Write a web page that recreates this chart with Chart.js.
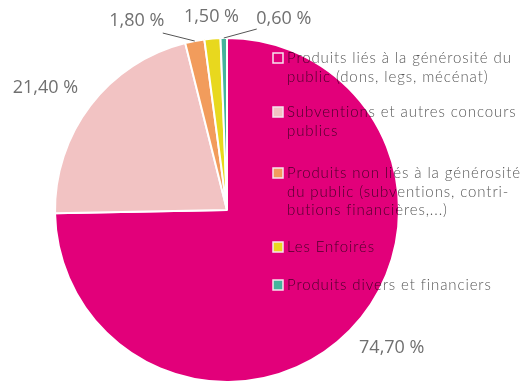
<!DOCTYPE html>
<html>
<head>
<meta charset="utf-8">
<script src="https://cdn.jsdelivr.net/npm/chart.js@4"></script>
<style>
  html, body { margin: 0; padding: 0; background: #fff; }
  #wrap { width: 523px; height: 385px; position: relative; }
</style>
</head>
<body>
<div id="wrap"><canvas id="pieChart"></canvas></div>
<script>
// data
const categories = [
    ["Produits liés à la générosité du", "public (dons, legs, mécénat)"],
    ["Subventions et autres concours", "publics"],
    ["Produits non liés à la générosité", "du public (subventions, contri-", "butions financières,...)"],
    ["Les Enfoirés"],
    ["Produits divers et financiers"]
];
const values = [74.7, 21.4, 1.8, 1.5, 0.6];
const valueLabels = ["74,70 %", "21,40 %", "1,80 %", "1,50 %", "0,60 %"];

const colors = ['#e2007a', '#f2c3c3', '#f29c5c', '#e8d81e', '#45b39c'];

// offsets of the value labels from the slice's outer edge (px)
const labelOffsets = [[42, 17], [-45, -18], [-58, -20], [-1, -22], [60, -19]];
const leaderTo = [null, null, [26, 12], null, [-27, 10]];
// legend line positions
const legendRows = [[58, 77], [112, 131], [173, 192, 210], [247], [285]];

const pieLabels = {
    id: 'pieLabels',
    afterDatasetsDraw(chart) {
        const ctx = chart.ctx;
        const arcs = chart.getDatasetMeta(0).data;
        ctx.save();
        ctx.font = '18px "Open Sans", sans-serif';
        ctx.fillStyle = '#707070';
        ctx.textAlign = 'center';
        ctx.textBaseline = 'middle';
        arcs.forEach((arc, i) => {
            const mid = (arc.startAngle + arc.endAngle) / 2;
            const ex = arc.x + Math.cos(mid) * arc.outerRadius;
            const ey = arc.y + Math.sin(mid) * arc.outerRadius;
            const lx = ex + labelOffsets[i][0];
            const ly = ey + labelOffsets[i][1];
            ctx.fillText(valueLabels[i], lx, ly);
            if (leaderTo[i]) {
                ctx.beginPath();
                ctx.strokeStyle = '#555';
                ctx.lineWidth = 1;
                ctx.moveTo(ex, ey);
                ctx.lineTo(lx + leaderTo[i][0], ly + leaderTo[i][1]);
                ctx.stroke();
            }
        });

        // legend, drawn over the pie
        ctx.textAlign = 'left';
        ctx.font = '300 15px Lato, sans-serif';
        ctx.letterSpacing = '0.9px';
        categories.forEach((lines, i) => {
            const y0 = legendRows[i][0];
            ctx.fillStyle = colors[i];
            ctx.fillRect(273, y0 - 5, 10, 10);
            ctx.strokeStyle = '#f6e4ee';
            ctx.lineWidth = 1.5;
            ctx.strokeRect(273, y0 - 5, 10, 10);
            ctx.globalCompositeOperation = 'multiply';
            ctx.fillStyle = '#575757';
            lines.forEach((t, j) => ctx.fillText(t, 287, legendRows[i][j]));
            ctx.globalCompositeOperation = 'source-over';
        });
        ctx.restore();
    }
};

new Chart(document.getElementById('pieChart'), {
    type: 'pie',
    data: {
        labels: categories.map(l => l.join(' ')),
        datasets: [{
            data: values,
            backgroundColor: colors,
            borderColor: '#ffffff',
            borderWidth: 2
        }]
    },
    options: {
        responsive: true,
        maintainAspectRatio: false,
        animation: false,
        layout: { padding: { left: 54, right: 123, top: 37, bottom: 2 } },
        plugins: {
            legend: { display: false },
            tooltip: { enabled: false }
        }
    },
    plugins: [pieLabels]
});
</script>
</body>
</html>
